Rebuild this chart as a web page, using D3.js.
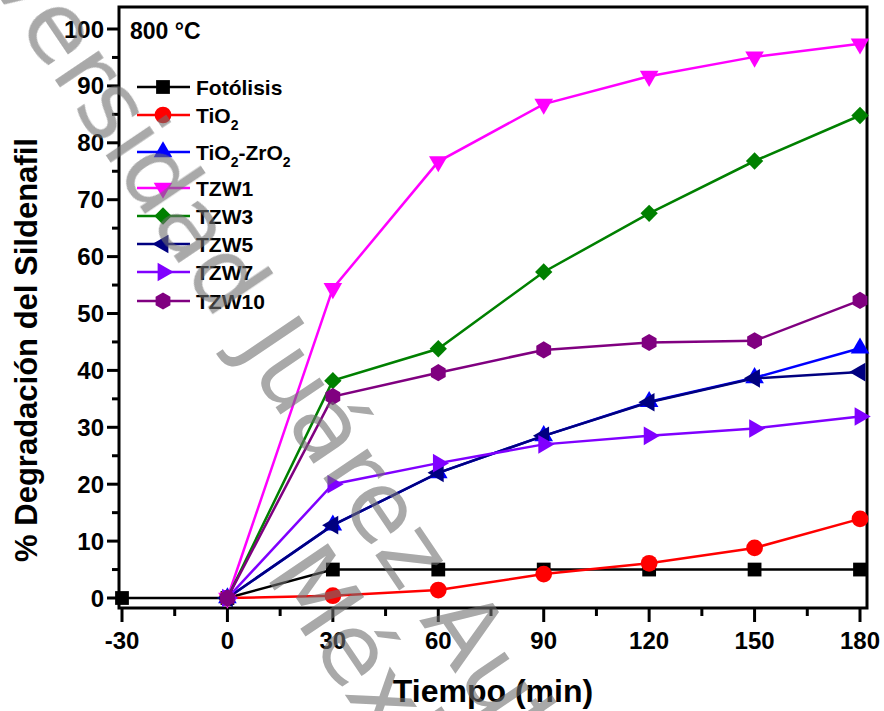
<!DOCTYPE html>
<html>
<head>
<meta charset="utf-8">
<script src="https://cdn.jsdelivr.net/npm/d3@7"></script>
<style>
  body { margin: 0; background: #fff; }
  svg { display: block; font-family: "Liberation Sans", Arial, sans-serif; }
</style>
</head>
<body>
<svg id="chart" width="884" height="711"></svg>
<script>
// data
var tiempo = [0, 30, 60, 90, 120, 150, 180];
var fotolisis = [0, 0, 5, 5, 5, 5, 5, 5];   // starts at -30
var fotolisisTiempo = [-30, 0, 30, 60, 90, 120, 150, 180];
var tio2 = [0, 0.4, 1.4, 4.2, 6.1, 8.8, 13.9];
var tio2zro2 = [0, 12.8, 22.0, 28.5, 34.5, 38.7, 43.9];
var tzw1 = [0, 54.4, 76.7, 86.8, 91.7, 95.1, 97.4];
var tzw3 = [0, 38.2, 43.8, 57.3, 67.6, 76.8, 84.8];
var tzw5 = [0, 12.8, 22.0, 28.5, 34.4, 38.6, 39.7];
var tzw7 = [0, 20.0, 23.7, 27.0, 28.5, 29.8, 31.9];
var tzw10 = [0, 35.4, 39.6, 43.6, 44.9, 45.2, 52.3];

var xTicks = [-30, 0, 30, 60, 90, 120, 150, 180];
var yTicks = [0, 10, 20, 30, 40, 50, 60, 70, 80, 90, 100];

var svg = d3.select('#chart');

var x = d3.scaleLinear().domain([-30, 180]).range([122, 860]);
var y = d3.scaleLinear().domain([0, 100]).range([598, 29]);

var frame = {left: 119, right: 867, top: 7, bottom: 608};

// hexagon symbol
var symbolHexagon = {
	draw: function(context, size) {
		var r = Math.sqrt(size / (3 * Math.sqrt(3) / 2));
		for (var i = 0; i < 6; i++) {
			var a = Math.PI / 3 * i;
			var px = r * Math.cos(a), py = r * Math.sin(a);
			if (i == 0) context.moveTo(px, py); else context.lineTo(px, py);
		}
		context.closePath();
	}
};

var series = [
	{name: 'Fotólisis', xs: fotolisisTiempo, ys: fotolisis, color: '#000000', sym: d3.symbolSquare, size: 190, rot: 0},
	{name: 'TiO2', xs: tiempo, ys: tio2, color: '#ff0000', sym: d3.symbolCircle, size: 220, rot: 0},
	{name: 'TiO2-ZrO2', xs: tiempo, ys: tio2zro2, color: '#0000ff', sym: d3.symbolTriangle, size: 150, rot: 0},
	{name: 'TZW1', xs: tiempo, ys: tzw1, color: '#ff00ff', sym: d3.symbolTriangle, size: 150, rot: 180},
	{name: 'TZW3', xs: tiempo, ys: tzw3, color: '#008000', sym: d3.symbolSquare, size: 150, rot: 45},
	{name: 'TZW5', xs: tiempo, ys: tzw5, color: '#000080', sym: d3.symbolTriangle, size: 150, rot: -90},
	{name: 'TZW7', xs: tiempo, ys: tzw7, color: '#8000ff', sym: d3.symbolTriangle, size: 150, rot: 90},
	{name: 'TZW10', xs: tiempo, ys: tzw10, color: '#800080', sym: symbolHexagon, size: 190, rot: 90}
];

// frame
svg.append('rect')
	.attr('x', frame.left).attr('y', frame.top)
	.attr('width', frame.right - frame.left).attr('height', frame.bottom - frame.top)
	.attr('fill', 'none').attr('stroke', '#000').attr('stroke-width', 3);

// x ticks
var gx = svg.append('g').attr('stroke', '#000').attr('stroke-width', 3);
d3.range(-30, 181, 15).forEach(function(v) {
	var major = v % 30 == 0;
	gx.append('line').attr('x1', x(v)).attr('x2', x(v))
		.attr('y1', frame.bottom).attr('y2', frame.bottom + (major ? 14 : 8));
});
svg.append('g').selectAll('text').data(xTicks).join('text')
	.attr('x', function(d) { return x(d); }).attr('y', 649)
	.attr('text-anchor', 'middle').attr('font-size', 24).attr('font-weight', 'bold')
	.text(function(d) { return d; });

// y ticks
var gy = svg.append('g').attr('stroke', '#000').attr('stroke-width', 3);
d3.range(0, 101, 5).forEach(function(v) {
	var major = v % 10 == 0;
	gy.append('line').attr('y1', y(v)).attr('y2', y(v))
		.attr('x1', frame.left).attr('x2', frame.left - (major ? 12 : 7));
});
svg.append('g').selectAll('text').data(yTicks).join('text')
	.attr('x', 104).attr('y', function(d) { return y(d) + 8.5; })
	.attr('text-anchor', 'end').attr('font-size', 24).attr('font-weight', 'bold')
	.text(function(d) { return d; });

// axis titles
svg.append('text').attr('x', 493).attr('y', 702)
	.attr('text-anchor', 'middle').attr('font-size', 32).attr('font-weight', 'bold')
	.text('Tiempo (min)');
svg.append('text')
	.attr('transform', 'translate(37,350) rotate(-90)')
	.attr('text-anchor', 'middle').attr('font-size', 31).attr('font-weight', 'bold')
	.text('% Degradación del Sildenafil');

svg.append('text').attr('x', 130).attr('y', 39)
	.attr('font-size', 23).attr('font-weight', 'bold').text('800 °C');

// series
var line = d3.line();
series.forEach(function(s) {
	var pts = s.xs.map(function(t, i) { return [x(t), y(s.ys[i])]; });
	var g = svg.append('g');
	g.append('path').attr('d', line(pts)).attr('fill', 'none')
		.attr('stroke', s.color).attr('stroke-width', 2.5);
	g.selectAll('path.m').data(pts).join('path').attr('class', 'm')
		.attr('transform', function(p) { return 'translate(' + p[0] + ',' + p[1] + ') rotate(' + s.rot + ')'; })
		.attr('d', d3.symbol(s.sym, s.size)())
		.attr('fill', s.color);
});

// legend
var legendY = [87, 115, 152, 188, 216, 244, 272, 301];
series.forEach(function(s, i) {
	var ly = legendY[i];
	var g = svg.append('g');
	g.append('line').attr('x1', 137).attr('x2', 190).attr('y1', ly).attr('y2', ly)
		.attr('stroke', s.color).attr('stroke-width', 2.5);
	g.append('path').attr('transform', 'translate(163,' + ly + ') rotate(' + s.rot + ')')
		.attr('d', d3.symbol(s.sym, s.size)()).attr('fill', s.color);
	var t = g.append('text').attr('x', 196).attr('y', ly + 8)
		.attr('font-size', 21).attr('font-weight', 'bold');
	if (s.name == 'TiO2') {
		t.append('tspan').text('TiO');
		t.append('tspan').attr('dy', 7).attr('font-size', 14).text('2');
	} else if (s.name == 'TiO2-ZrO2') {
		t.append('tspan').text('TiO');
		t.append('tspan').attr('dy', 7).attr('font-size', 14).text('2');
		t.append('tspan').attr('dy', -7).text('-ZrO');
		t.append('tspan').attr('dy', 7).attr('font-size', 14).text('2');
	} else {
		t.text(s.name);
	}
});

// watermark
var wm = svg.append('g').attr('fill', '#707070').attr('opacity', 0.6)
	.attr('font-family', '"DejaVu Sans", sans-serif').attr('font-size', 97);
wm.append('text').attr('transform', 'translate(235,347) rotate(56)')
	.attr('x', -30.8).attr('text-anchor', 'end').text('Universidad');
wm.append('text').attr('transform', 'translate(235,347) rotate(56)')
	.text('Juárez Autónoma de Tabasco');
wm.append('text').attr('transform', 'translate(264,575) rotate(56)')
	.text('México');
</script>
</body>
</html>
